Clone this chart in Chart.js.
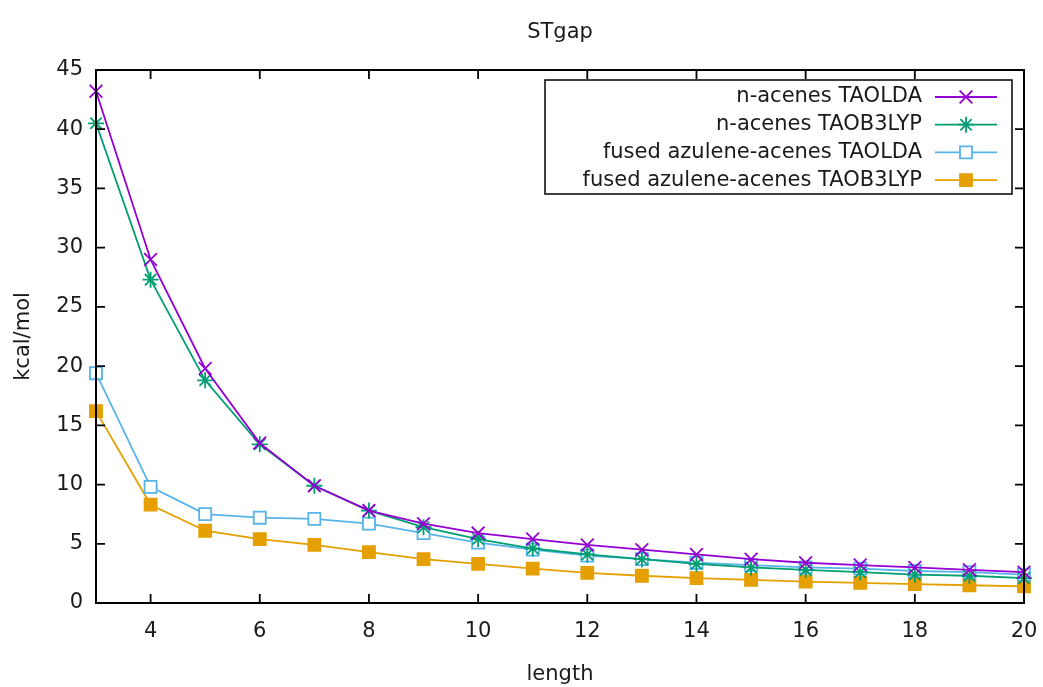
<!DOCTYPE html>
<html>
<head>
<meta charset="utf-8">
<script src="https://cdn.jsdelivr.net/npm/chart.js@4.4.1/dist/chart.umd.min.js"></script>
<style>
html,body{margin:0;padding:0;background:#fff;}
#wrap{width:1043px;height:687px;position:relative;}
</style>
</head>
<body>
<div id="wrap"><canvas id="c" width="1043" height="687"></canvas></div>
<script>
const lengths = [3,4,5,6,7,8,9,10,11,12,13,14,15,16,17,18,19,20];
const acenesTAOLDA = [43.2,29.0,19.8,13.5,9.9,7.8,6.7,5.9,5.4,4.9,4.5,4.1,3.7,3.4,3.2,3.0,2.8,2.6];
const acenesTAOB3LYP = [40.5,27.3,18.8,13.4,9.9,7.8,6.4,5.4,4.6,4.1,3.7,3.3,3.0,2.8,2.6,2.4,2.3,2.1];
const azuleneTAOLDA = [19.4,9.8,7.5,7.2,7.1,6.7,5.9,5.1,4.5,4.0,3.7,3.4,3.2,3.0,2.9,2.7,2.6,2.4];
const azuleneTAOB3LYP = [16.2,8.3,6.1,5.4,4.9,4.3,3.7,3.3,2.9,2.55,2.3,2.1,1.95,1.8,1.7,1.6,1.5,1.4];
const seriesNames = ["n-acenes TAOLDA","n-acenes TAOB3LYP","fused azulene-acenes TAOLDA","fused azulene-acenes TAOB3LYP"];
const xTicks = [4,6,8,10,12,14,16,18,20];
const yTicks = [0,5,10,15,20,25,30,35,40,45];
const chartTitle = "STgap";
const xTitle = "length";
const yTitle = "kcal/mol";

const FONT = "'DejaVu Sans', sans-serif";
const FS = 21;
const TXT = '#1a1a1a';

function pts(vals){ return vals.map((v,i)=>({x:lengths[i], y:v})); }

const styles = [
  {color:'#9400d3', pointStyle:'crossRot', fill:'#9400d3', r:9},
  {color:'#009e73', pointStyle:'star', fill:'#009e73', r:8},
  {color:'#56b4e9', pointStyle:'rect', fill:'#ffffff', r:8.5},
  {color:'#e69f00', pointStyle:'rect', fill:'#e69f00', r:8.5}
];
const allData = [acenesTAOLDA, acenesTAOB3LYP, azuleneTAOLDA, azuleneTAOB3LYP];

const datasets = allData.map((d,i)=>({
  label: seriesNames[i],
  data: pts(d),
  borderColor: styles[i].color,
  backgroundColor: styles[i].fill,
  pointStyle: styles[i].pointStyle,
  pointRadius: styles[i].r,
  pointBorderColor: styles[i].color,
  pointBackgroundColor: styles[i].fill,
  pointBorderWidth: 1.8,
  borderWidth: 1.8,
  tension: 0,
  clip: false
}));

const frame = {
  id:'frame',
  afterDraw(chart){
    const {ctx, chartArea:a, scales:{x, y}} = chart;
    ctx.save();
    ctx.strokeStyle = '#000';
    ctx.lineWidth = 2;
    ctx.strokeRect(a.left, a.top, a.right-a.left, a.bottom-a.top);
    ctx.lineWidth = 1.8;
    const L = 9;
    ctx.beginPath();
    xTicks.forEach(v=>{
      const px = x.getPixelForValue(v);
      ctx.moveTo(px, a.bottom); ctx.lineTo(px, a.bottom-L);
      ctx.moveTo(px, a.top); ctx.lineTo(px, a.top+L);
    });
    yTicks.forEach(v=>{
      const py = y.getPixelForValue(v);
      ctx.moveTo(a.left, py); ctx.lineTo(a.left+L, py);
      ctx.moveTo(a.right, py); ctx.lineTo(a.right-L, py);
    });
    ctx.stroke();
    // legend
    const bx = 545, by = 80, bw = 467, bh = 114;
    ctx.fillStyle = '#fff';
    ctx.fillRect(bx, by, bw, bh);
    ctx.lineWidth = 1.5;
    ctx.strokeStyle = '#000';
    ctx.strokeRect(bx, by, bw, bh);
    ctx.font = FS + "px " + FONT;
    ctx.textAlign = 'right';
    ctx.textBaseline = 'middle';
    chart.data.datasets.forEach((ds,i)=>{
      const ly = by + 17 + i*27.7;
      ctx.fillStyle = TXT;
      ctx.fillText(ds.label, 922, ly);
      ctx.strokeStyle = ds.borderColor;
      ctx.lineWidth = 1.8;
      ctx.beginPath(); ctx.moveTo(935, ly); ctx.lineTo(997, ly); ctx.stroke();
      ctx.save();
      ctx.fillStyle = ds.pointBackgroundColor;
      ctx.strokeStyle = ds.pointBorderColor;
      ctx.lineWidth = 1.8;
      Chart.helpers.drawPoint(ctx, {pointStyle: ds.pointStyle, radius: ds.pointRadius, borderWidth: 1.8, rotation:0}, 966, ly);
      ctx.restore();
    });
    ctx.restore();
  }
};

new Chart(document.getElementById('c'), {
  type:'line',
  data:{datasets},
  options:{
    responsive:false,
    animation:false,
    layout:{padding:{left:0, right:19, top:0, bottom:0}},
    plugins:{
      legend:{display:false},
      tooltip:{enabled:false},
      title:{display:true, fullSize:false, text:chartTitle, color:TXT, font:{family:FONT, size:FS, weight:'normal'}, padding:{top:20, bottom:24.8}}
    },
    scales:{
      x:{
        type:'linear', min:3, max:20,
        afterBuildTicks(s){ s.ticks = xTicks.map(v=>({value:v})); },
        afterFit(s){ s.height = 84; s.paddingRight = 0; s.paddingLeft = 0; },
        grid:{display:false, drawTicks:false},
        border:{display:false},
        ticks:{color:TXT, padding:16, font:{family:FONT, size:FS}, maxRotation:0},
        title:{display:true, text:xTitle, color:TXT, font:{family:FONT, size:FS}, padding:{top:0, bottom:0}}
      },
      y:{
        type:'linear', min:0, max:45,
        afterBuildTicks(s){ s.ticks = yTicks.map(v=>({value:v})); },
        afterFit(s){ s.width = 96; s.paddingTop = 0; s.paddingBottom = 0; },
        grid:{display:false, drawTicks:false},
        border:{display:false},
        ticks:{color:TXT, padding:13, font:{family:FONT, size:FS}},
        title:{display:true, text:yTitle, color:TXT, font:{family:FONT, size:FS}, padding:{top:11, bottom:0}}
      }
    }
  },
  plugins:[frame]
});
</script>
</body>
</html>
